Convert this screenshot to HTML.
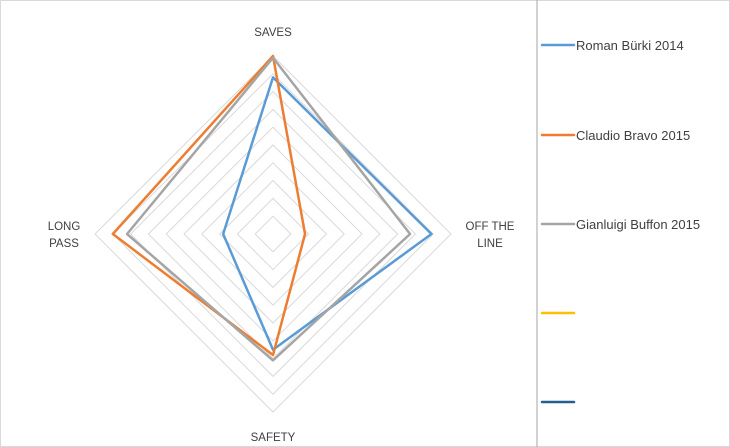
<!DOCTYPE html>
<html><head><meta charset="utf-8"><style>
body{margin:0;background:#fff}
svg{display:block;font-family:"Liberation Sans",sans-serif}
</style></head><body>
<svg id="c" width="730" height="447" viewBox="0 0 730 447">
<rect x="0.5" y="0.5" width="729" height="446" fill="#fff" stroke="#d9d9d9"/>
<line x1="537" y1="0" x2="537" y2="447" stroke="#a6a6a6"/>
<g id="grid"></g><g id="series"></g><g id="labels"></g><g id="legend"></g>
</svg>
<script>
const categories=["SAVES","OFF THE LINE","SAFETY","LONG PASS"];
const seriesNames=["Roman Bürki 2014","Claudio Bravo 2015","Gianluigi Buffon 2015","",""];
const burki=[0.88,0.89,0.65,0.28];
const bravo=[1.0,0.18,0.68,0.90];
const buffon=[0.99,0.77,0.71,0.82];
const ringCount=10;
const colors=["#5b9bd5","#ed7d31","#a5a5a5","#ffc000","#255e91"];
const cx=273,cy=234,R=178,NS="http://www.w3.org/2000/svg";
function pt(i,v){const a=-Math.PI/2+i*Math.PI/2;return [cx+R*v*Math.cos(a),cy+R*v*Math.sin(a)];}
function mk(t,p,at){const e=document.createElementNS(NS,t);for(const k in at)e.setAttribute(k,at[k]);p.appendChild(e);return e;}
const g=document.getElementById('grid');
for(let r=1;r<=ringCount;r++){const v=r/ringCount;
 const e=mk('polygon',g,{points:categories.map((c,i)=>pt(i,v).join(',')).join(' '),fill:'none',stroke:'#d9d9d9','stroke-width':1});
 
 }
const sg=document.getElementById('series');
[burki,bravo,buffon].forEach((d,s)=>{
 const e=mk('polygon',sg,{points:d.map((v,i)=>pt(i,v).join(',')).join(' '),fill:'none',stroke:colors[s],'stroke-width':2.5,'stroke-linejoin':'round'});
 
 });
const lg=document.getElementById('labels');
const lp=[[273,36,'middle',[categories[0]]],[490,230,'middle',['OFF THE','LINE']],[273,441,'middle',[categories[2]]],[64,230,'middle',['LONG','PASS']]];
lp.forEach((l,i)=>{l[3].forEach((txt,j)=>{
 const e=mk('text',lg,{x:l[0],y:l[1]+j*17,'text-anchor':l[2],'font-size':11.5,fill:'#404040'});e.textContent=txt;
 
 });});
const lgd=document.getElementById('legend');
const ly=[45,135,224,313,402];
seriesNames.forEach((n,i)=>{
 const l=mk('line',lgd,{x1:542,x2:574,y1:ly[i],y2:ly[i],stroke:colors[i],'stroke-width':2.5,'stroke-linecap':'round'});
 
 
 if(n){const t=mk('text',lgd,{x:576,y:ly[i]+5,'font-size':13,fill:'#404040'});t.textContent=n;
 
 }});
</script>
</body></html>
